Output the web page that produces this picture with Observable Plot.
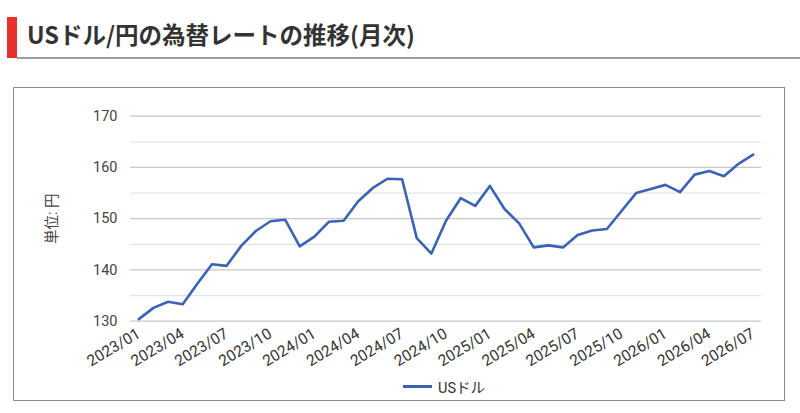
<!DOCTYPE html>
<html>
<head>
<meta charset="utf-8">
<script src="https://cdn.jsdelivr.net/npm/d3@7"></script>
<script src="https://cdn.jsdelivr.net/npm/@observablehq/plot@0.6"></script>
<style>
  html, body { margin: 0; padding: 0; background: #fff; }
  body { width: 800px; height: 413px; position: relative; overflow: hidden;
         font-family: Roboto, "Noto Sans CJK JP", sans-serif; }
  #redbar { position: absolute; left: 7px; top: 17px; width: 10px; height: 41px; background: #e8302f; }
  #title { position: absolute; left: 27px; top: 16px; font-family: "Noto Sans CJK JP", sans-serif;
           font-weight: 700; font-size: 23.5px; color: #333; line-height: 36px; letter-spacing: 0px; }
  #rule { position: absolute; left: 17px; right: 0; top: 57px; height: 2px; background: #a0a0a0; }
  #box { position: absolute; left: 13px; top: 87px; width: 772px; height: 314px; border: 1.5px solid #8a8a8a; box-sizing: border-box; }
  #chart { position: absolute; left: 14px; top: 88px; }
  #legend { position: absolute; left: 403px; top: 376px; font-size: 14.5px; color: #333; display: flex; align-items: center;
            font-family: Roboto, "Noto Sans CJK JP", sans-serif; }
  #legend .sw { width: 29px; height: 3px; background: #3a63b3; margin-right: 6px; }
</style>
</head>
<body>
<div id="redbar"></div>
<div id="title">USドル/円の為替レートの推移(月次)</div>
<div id="rule"></div>
<div id="box"></div>
<div id="chart"></div>
<div id="legend"><div class="sw"></div><span>USドル</span></div>
<script>
const months = [
  "2023/01","2023/02","2023/03","2023/04","2023/05","2023/06","2023/07","2023/08","2023/09","2023/10","2023/11","2023/12",
  "2024/01","2024/02","2024/03","2024/04","2024/05","2024/06","2024/07","2024/08","2024/09","2024/10","2024/11","2024/12",
  "2025/01","2025/02","2025/03","2025/04","2025/05","2025/06","2025/07","2025/08","2025/09","2025/10","2025/11","2025/12",
  "2026/01","2026/02","2026/03","2026/04","2026/05","2026/06","2026/07"
];
const usdJpy = [
  130.4, 132.6, 133.8, 133.3, 137.3, 141.1, 140.8, 144.7, 147.6, 149.5, 149.8, 144.6,
  146.5, 149.4, 149.6, 153.4, 156.0, 157.8, 157.7, 146.2, 143.2, 149.6, 154.0, 152.5,
  156.4, 151.9, 149.1, 144.4, 144.8, 144.4, 146.8, 147.7, 148.0, 151.5, 155.0, 155.8,
  156.6, 155.2, 158.6, 159.3, 158.3, 160.7, 162.5
];
const xTickLabels = months.filter((d, i) => i % 3 === 0);
const yMajorTicks = [130, 140, 150, 160, 170];
const yMinorTicks = [135, 145, 155, 165];
const seriesName = "USドル";
const yLabel = "単位: 円";

const data = months.map((m, i) => ({month: m, value: usdJpy[i], series: seriesName}));

const chart = Plot.plot({
  width: 771,
  height: 290,
  marginLeft: 116,
  marginRight: 24,
  marginTop: 27.7,
  marginBottom: 57.3,
  style: {fontFamily: 'Roboto, "Noto Sans CJK JP", sans-serif', color: "#444", background: "transparent"},
  x: {type: "point", domain: months, padding: 0.57, round: false},
  y: {domain: [130, 170]},
  marks: [
    Plot.gridY(yMinorTicks, {stroke: "#e4e4e4", strokeOpacity: 1, strokeWidth: 1.2}),
    Plot.gridY(yMajorTicks, {stroke: "#c8c8c8", strokeOpacity: 1, strokeWidth: 1.2}),
    Plot.axisY({ticks: yMajorTicks, tickSize: 0, tickPadding: 13, fontSize: 14.5, label: yLabel,
                labelAnchor: "center", labelArrow: "none", labelOffset: 84}),
    Plot.axisX({ticks: xTickLabels, tickSize: 0, tickPadding: 11, tickRotate: -31, fontSize: 15.5, label: null, fill: "#333"}),
    Plot.line(data, {x: "month", y: "value", stroke: "#3a63b3", strokeWidth: 2.6, strokeLinejoin: "round"})
  ]
});
document.getElementById("chart").appendChild(chart);
</script>
</body>
</html>
